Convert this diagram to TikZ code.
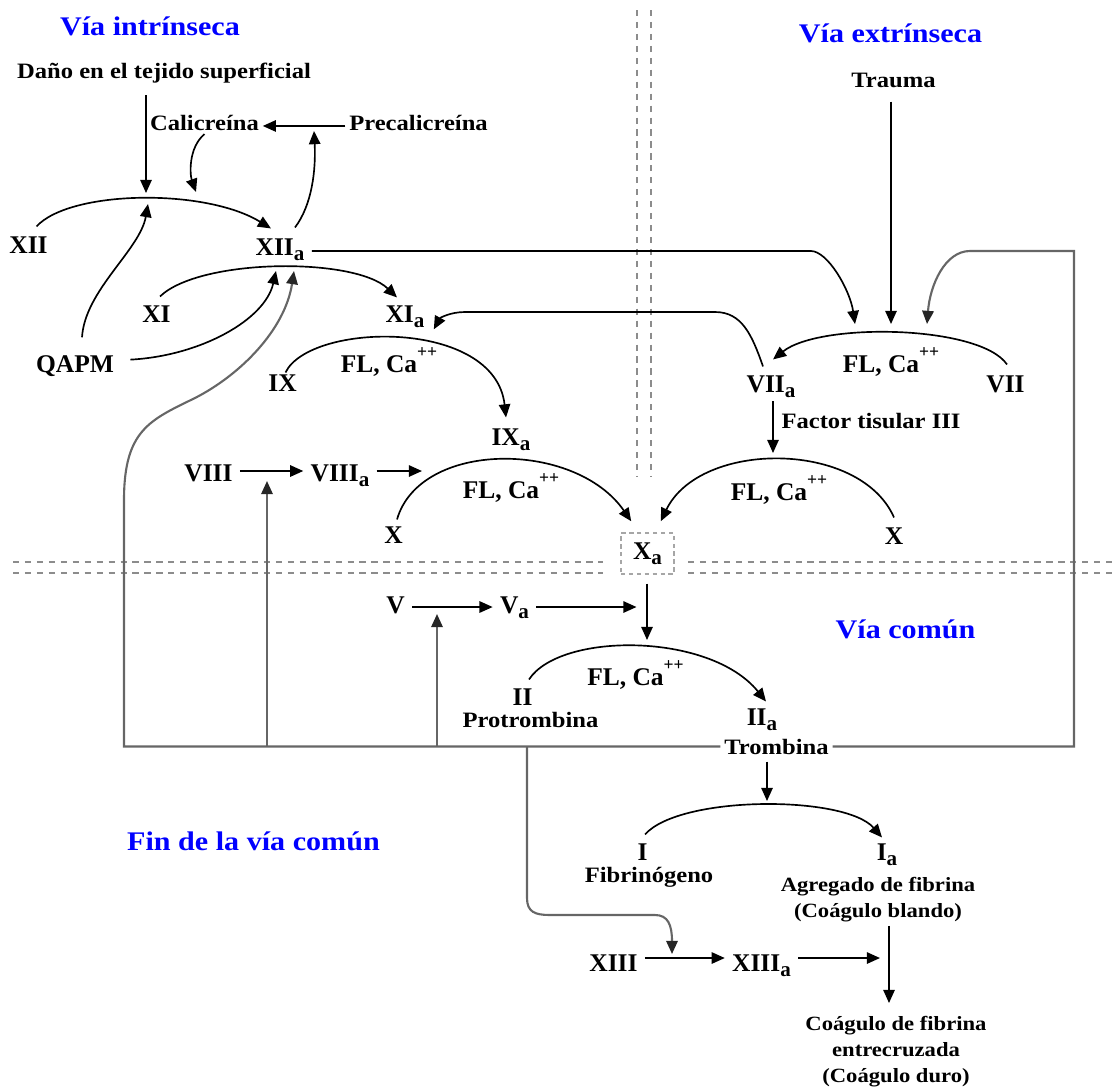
\documentclass[tikz,border=0pt]{standalone}
\usepackage{fontspec}
\setmainfont{Liberation Serif}
\newfontfamily\widefont{Liberation Serif}[FakeStretch=1.12]
\usetikzlibrary{arrows.meta,calc}
\newcommand{\sba}{\raisebox{-3pt}{\fontsize{12}{12}\selectfont a}}
\newcommand{\capp}{Ca\raisebox{8.5pt}{\fontsize{10}{10}\selectfont ++}}

\begin{document}
\begin{tikzpicture}[x=0.02cm, y=-0.02cm,
  fac/.style={font=\fontsize{14.5}{16}\selectfont\bfseries, inner xsep=4pt, inner ysep=2pt, anchor=base},
  txt/.style={font=\widefont\fontsize{12.5}{15}\selectfont\bfseries, inner sep=2pt, anchor=base},
  note/.style={font=\widefont\fontsize{11.5}{14.8}\selectfont\bfseries, inner sep=2pt, anchor=north, align=center},
  ttl/.style={font=\widefont\fontsize{15.3}{18}\selectfont\bfseries, text=blue, inner sep=2pt, anchor=base},
  xbox/.style={draw=black!35, dash pattern=on 2.5pt off 2pt, line width=0.9pt, minimum width=1.06cm, minimum height=0.82cm, inner sep=0pt, font=\fontsize{14.5}{16}\selectfont\bfseries},
  flow/.style={draw, line width=0.95pt, -{Triangle[length=7.5pt,width=6.5pt]}},
  feed/.style={draw=black!60, line width=1.2pt, -{Triangle[length=7.5pt,width=6.5pt,color=black!85]}},
  sepline/.style={draw=black!45, line width=1.6pt, dash pattern=on 3.5pt off 3.3pt}
]
\useasboundingbox (0,0) rectangle (1118,1089);

% separators
\draw[sepline] (13,562) -- (603,562);
\draw[sepline] (13,573) -- (603,573);
\draw[sepline] (688,562) -- (1118,562);
\draw[sepline] (688,573) -- (1118,573);
\draw[sepline] (637,10) -- (637,477);
\draw[sepline] (651,10) -- (651,477);

% titles
\node[ttl] (tintr) at (150,35) {Vía intrínseca};
\node[ttl] (textr) at (890.5,42) {Vía extrínseca};
\node[ttl] (tcom) at (905.5,638) {Vía común};
\node[ttl] (tfin) at (253.5,850) {Fin de la vía común};

% intrinsic pathway
\node[txt] (dano) at (164,78) {Daño en el tejido superficial};
\node[txt] (cal) at (204.5,130) {Calicreína};
\node[txt] (precal) at (418.5,130) {Precalicreína};
\node[fac] (xii) at (28.5,253) {XII};
\node[fac] (xiia) at (280,255) {XII\sba};
\node[fac] (xi) at (156.5,322) {XI};
\node[fac] (xia) at (405,322) {XI\sba};
\node[fac] (qapm) at (75,372) {QAPM};
\node[fac] (ix) at (282.5,391) {IX};
\node[fac] (flca1) at (389,372) {FL, \capp};
\node[fac] (ixa) at (511,445) {IX\sba};
\node[fac] (viii) at (208.5,481) {VIII};
\node[fac] (viiia) at (340,481) {VIII\sba};
\node[fac] (flca3) at (511,498) {FL, \capp};
\node[fac] (xl) at (393.5,543) {X};

% extrinsic pathway
\node[txt] (trauma) at (893.5,87) {Trauma};
\node[fac] (flca2) at (891,372) {FL, \capp};
\node[fac] (viia) at (771,392) {VII\sba};
\node[fac] (vii) at (1005.5,392) {VII};
\node[txt] (ftis) at (871,428) {Factor tisular III};
\node[fac] (flca4) at (779,500) {FL, \capp};
\node[fac] (xr) at (894,544) {X};
\node[xbox] (xa) at (647.5,553.5) {X\sba};

% common pathway
\node[fac] (v) at (395.5,613) {V};
\node[fac] (va) at (514.5,613) {V\sba};
\node[fac] (flca5) at (635.5,685) {FL, \capp};
\node[fac] (ii) at (522.5,705) {II};
\node[txt] (protr) at (530.5,727) {Protrombina};
\node[fac] (iia) at (762,725) {II\sba};
\node[txt] (tromb) at (776.5,754) {Trombina};
\node[fac] (fi) at (642.5,860) {I};
\node[txt] (fibr) at (649,882) {Fibrinógeno};
\node[fac] (fia) at (887,860) {I\sba};
\node[note] (agreg) at (878,873.5) {Agregado de fibrina\\(Coágulo blando)};
\node[fac] (xiii) at (613.5,971) {XIII};
\node[fac] (xiiia) at (761.5,971) {XIII\sba};
\node[note] (coag) at (896,1012.5) {Coágulo de fibrina\\entrecruzada\\(Coágulo duro)};

% free arrow ends
\coordinate (k12top) at (146,193);
\coordinate (k12bot) at (148,204);
\coordinate (k12cal) at (196,192);
\coordinate (k12pre) at (314,131);
\coordinate (k11a) at (276,271);
\coordinate (k11b) at (294,271);
\coordinate (k7a) at (855,324);
\coordinate (k7b) at (891,324);
\coordinate (k7c) at (927,324);
\coordinate (kxl) at (422,471);
\coordinate (kxr) at (773,453);
\coordinate (kii) at (636.5,607);
\coordinate (kiib) at (647,640);
\coordinate (ki) at (767,801);
\coordinate (kcl) at (880,958);
\coordinate (kcd) at (889,1003);
\coordinate (kxiii) at (672,954);
\coordinate (kup1) at (267,481);
\coordinate (kup2) at (437,614);

% reactions
\draw[flow] ($(xii.north)+(8,-6)$) .. controls (70,190) and (205,188) .. ($(xiia.north)+(-9,-6)$);
\draw[flow] ($(xi.north)+(3.5,-5)$) .. controls (200,258) and (355,257) .. ($(xia.north)+(-8,-4)$);
\draw[flow] ($(ix.north)+(3,2)$) .. controls (310,322) and (495,318) .. ($(ixa.north)+(-5,-7)$);
\draw[flow] ($(xl.north)+(3.5,-3)$) .. controls (420,440) and (575,440) .. ($(xa.north west)+(11,-11)$);
\draw[flow] ($(xr.north)+(0,-6)$) .. controls (860,440) and (700,440) .. ($(xa.north east)+(-14,-11)$);
\draw[flow] ($(vii.north)+(1.5,-7)$) .. controls (980,325) and (820,322) .. ($(viia.north)+(2,-12)$);
\draw[flow] ($(ii.north)+(6.5,-5)$) .. controls (560,632) and (710,632) .. ($(iia.north)+(4,-3)$);
\draw[flow] ($(fi.north)+(2.5,-5)$) .. controls (680,795) and (845,795) .. ($(fia.north)+(-5,-2)$);

% activators
\draw[flow, shorten <=5pt] (dano.south -| k12top) -- (k12top);
\draw[flow] (precal.mid west) -- (cal.mid east);
\draw[flow] (cal.south) .. controls (188,148) and (190,175) .. (k12cal);
\draw[flow] ($(xiia.north)+(15,-7)$) .. controls (312,205) and (316,170) .. (k12pre);
\draw[flow] ($(qapm.north)+(7,-14)$) .. controls (85,290) and (140,250) .. (k12bot);
\draw[flow] ($(qapm.east)+(9,-6)$) .. controls (200,356) and (265,320) .. (k11a);
\draw[flow] (xiia.mid east) -- ++(499,0) .. controls +(17,0) and (850,290) .. (k7a);
\draw[flow, shorten <=6pt] (trauma.south -| k7b) -- (k7b);
\draw[flow] ($(viia.north)+(-8,-5)$) .. controls (752,335) and (742,312) .. (715,312) -- (465,312) .. controls (450,312) and (440,318) .. ($(xia.south east)+(2,-2)$);
\draw[flow] (viia.south -| kxr) -- (kxr);
\draw[flow] (viii.east |- kxl) -- (viiia.west |- kxl);
\draw[flow] (viiia.east |- kxl) -- (kxl);
\draw[flow] (v.east |- kii) -- (va.west |- kii);
\draw[flow] (va.east |- kii) -- (kii);
\draw[flow, shorten <=5pt] (xa.south -| kiib) -- (kiib);
\draw[flow, shorten <=2pt] (tromb.south -| ki) -- (ki);
\draw[flow] (xiii.east |- kcl) -- (xiiia.west |- kcl);
\draw[flow] (xiiia.east |- kcl) -- (kcl);
\draw[flow] (agreg.south -| kcd) -- (kcd);

% thrombin feedback
\draw[feed] (tromb.west) -| (124,500) .. controls (124,430) and (150,420) .. (195,398) .. controls (240,375) and (285,330) .. (k11b);
\draw[feed] (tromb.east) -| (1074,251) -- (970,251) .. controls (945,251) and (930,285) .. (k7c);
\draw[feed] (kup1 |- tromb.west) -- (kup1);
\draw[feed] (kup2 |- tromb.west) -- (kup2);
\draw[feed] (527,0 |- tromb.west) -- (527,898) .. controls (527,912) and (535,915) .. (550,915) -- (655,915) .. controls (668,915) and (672,925) .. (kxiii);
\end{tikzpicture}
\end{document}
